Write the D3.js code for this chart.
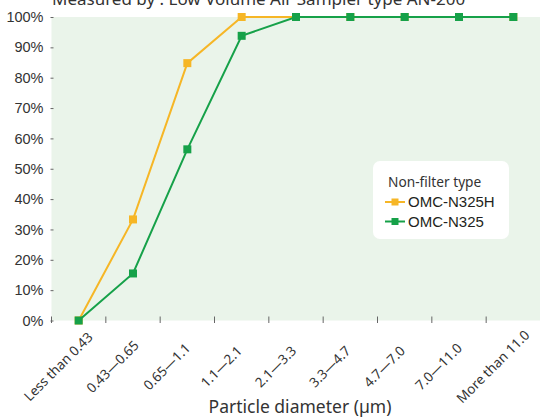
<!DOCTYPE html>
<html>
<head>
<meta charset="utf-8">
<script src="https://cdn.jsdelivr.net/npm/d3@7"></script>
<style>
  body { margin: 0; background: #fff; }
  svg { display: block; }
</style>
</head>
<body>
<svg id="chart" width="540" height="417"></svg>
<script>
// data
const categories = ['Less than 0.43', '0.43\u20140.65', '0.65\u20141.1', '1.1\u20142.1', '2.1\u20143.3',
  '3.3\u20144.7', '4.7\u20147.0', '7.0\u201411.0', 'More than 11.0'];
const n325h = [0, 33.3, 84.8, 100, 100, 100, 100, 100, 100];
const n325 = [0, 15.5, 56.4, 93.8, 100, 100, 100, 100, 100];
const yTicks = [0, 10, 20, 30, 40, 50, 60, 70, 80, 90, 100];
const seriesNames = ['OMC-N325H', 'OMC-N325'];

const orange = '#f6b626', green = '#16a149';
const svg = d3.select('#chart');
const plotL = 51.5, plotR = 540.5, plotT = 17, plotB = 320.5;

const x = d3.scaleBand().domain(categories).range([plotL, plotR]).padding(0);
const y = d3.scaleLinear().domain([0, 100]).range([plotB, plotT]);
const cx = d => x(d) + x.bandwidth() / 2;

// title, cut off at the top like the original
svg.append('text').attr('x', 52).attr('y', 4.5)
  .attr('font-family', 'Noto Sans').attr('font-size', 17).attr('fill', '#333')
  .text('Measured by : Low Volume Air Sampler type AN-200');

svg.append('rect').attr('x', plotL).attr('y', plotT)
  .attr('width', plotR - plotL).attr('height', plotB - plotT).attr('fill', '#eaf4ea');

// y axis
const yAxis = svg.append('g').attr('transform', `translate(${plotL},0)`)
  .call(d3.axisLeft(y).tickValues(yTicks).tickFormat(d => d + '%').tickSize(-3).tickPadding(8));
yAxis.select('.domain').remove();
yAxis.selectAll('line').attr('stroke', '#666').attr('transform', 'translate(-1,0)');
yAxis.selectAll('text').attr('font-family', 'Liberation Sans').attr('font-size', 14.5).attr('fill', '#333');

// x axis: ticks between categories, labels rotated
const xb = svg.append('g');
xb.selectAll('line').data(categories).enter().append('line')
  .attr('x1', d => x(d)).attr('x2', d => x(d))
  .attr('y1', plotB - 4).attr('y2', plotB + 2.5)
  .attr('stroke', '#666');
xb.selectAll('text').data(categories).enter().append('text')
  .attr('transform', d => `translate(${cx(d) - 17},370) rotate(-45)`)
  .attr('text-anchor', 'middle')
  .attr('font-family', 'Noto Sans').attr('font-size', 13.5).attr('fill', '#333')
  .text(d => d);

svg.append('text').attr('x', 300).attr('y', 413).attr('text-anchor', 'middle')
  .attr('font-family', 'Noto Sans').attr('font-size', 17.5).attr('fill', '#333')
  .text('Particle diameter (\u00b5m)');

// lines
const line = d3.line().x((d, i) => cx(categories[i])).y(d => y(d));
[[n325h, orange], [n325, green]].forEach(([vals, col]) => {
  svg.append('path').datum(vals).attr('d', line)
    .attr('fill', 'none').attr('stroke', col).attr('stroke-width', 2);
  svg.append('g').selectAll('rect').data(vals).enter().append('rect')
    .attr('x', (d, i) => cx(categories[i]) - 4).attr('y', d => y(d) - 4)
    .attr('width', 8).attr('height', 8).attr('fill', col);
});

// legend
const lg = svg.append('g');
lg.append('rect').attr('x', 373).attr('y', 161).attr('width', 136).attr('height', 78)
  .attr('rx', 7).attr('fill', '#fff');
lg.append('text').attr('x', 388).attr('y', 187)
  .attr('font-family', 'Noto Sans').attr('font-size', 13.7).attr('fill', '#333')
  .text('Non-filter type');
[orange, green].forEach((col, i) => {
  const ly = 202 + i * 19.5;
  lg.append('line').attr('x1', 385).attr('x2', 405).attr('y1', ly).attr('y2', ly)
    .attr('stroke', col).attr('stroke-width', 2);
  lg.append('rect').attr('x', 391.5).attr('y', ly - 3.5).attr('width', 7).attr('height', 7).attr('fill', col);
  lg.append('text').attr('x', 408).attr('y', ly).attr('dy', '0.35em')
    .attr('font-family', 'Liberation Sans').attr('font-size', 15).attr('fill', '#231f20')
    .text(seriesNames[i]);
});
</script>
</body>
</html>
